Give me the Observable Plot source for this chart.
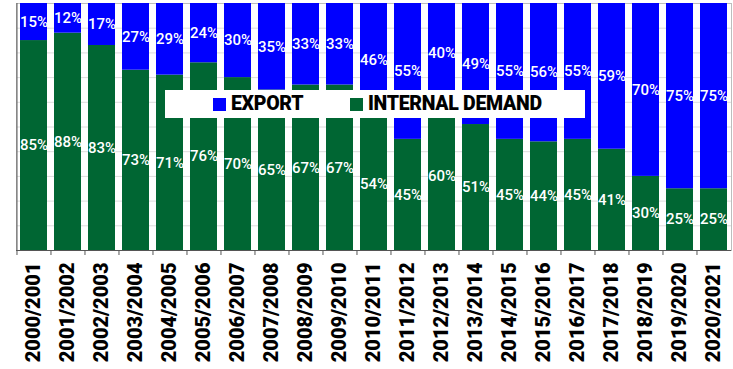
<!DOCTYPE html>
<html>
<head>
<meta charset="utf-8">
<script src="https://cdn.jsdelivr.net/npm/d3@7"></script>
<script src="https://cdn.jsdelivr.net/npm/@observablehq/plot@0.6"></script>
<style>
  html, body { margin: 0; padding: 0; background: #fff; }
  #wrap { position: relative; width: 733px; height: 369px; }
  #legend { position: absolute; left: 165px; top: 90px; width: 420px; height: 28px; background: #fff;
            font-family: Roboto, sans-serif; font-weight: 900; font-size: 19.5px; color: #000; }
  .sw { position: absolute; top: 8px; width: 13px; height: 13px; }
  .lt { position: absolute; top: 0; line-height: 28px; letter-spacing: -0.3px; }
</style>
</head>
<body>
<div id="wrap">
  <div id="chart"></div>
  <div id="legend">
    <div class="sw" style="left:48px;background:#0000ff"></div>
    <div class="lt" style="left:66px">EXPORT</div>
    <div class="sw" style="left:185px;background:#006633"></div>
    <div class="lt" style="left:203px">INTERNAL DEMAND</div>
  </div>
</div>
<script>
const seasons = ["2000/2001","2001/2002","2002/2003","2003/2004","2004/2005","2005/2006","2006/2007","2007/2008","2008/2009","2009/2010","2010/2011","2011/2012","2012/2013","2013/2014","2014/2015","2015/2016","2016/2017","2017/2018","2018/2019","2019/2020","2020/2021"];
const internalDemand = [85,88,83,73,71,76,70,65,67,67,54,45,60,51,45,44,45,41,30,25,25];
const exportShare = [15,12,17,27,29,24,30,35,33,33,46,55,40,49,55,56,55,59,70,75,75];
const seriesNames = ["INTERNAL DEMAND", "EXPORT"];
const seriesColors = ["#006633", "#0000ff"];

const rows = [];
seasons.forEach((s, i) => rows.push({season: s, series: seriesNames[0], value: internalDemand[i]}));
seasons.forEach((s, i) => rows.push({season: s, series: seriesNames[1], value: exportShare[i]}));

const W = 733, ML = 16, MR = 2;
const half = (W - ML - MR) / seasons.length / 2;

const chart = Plot.plot({
  width: W,
  height: 369,
  marginTop: 3,
  marginLeft: ML,
  marginRight: MR,
  marginBottom: 119,
  style: {background: "white"},
  x: {domain: seasons, paddingInner: 0.2, paddingOuter: 0.1, label: null},
  y: {domain: [0, 100], label: null, axis: null},
  color: {domain: seriesNames, range: seriesColors},
  marks: [
    Plot.gridY(d3.range(10, 100, 10), {stroke: "#dcdcdc", strokeOpacity: 1}),
    Plot.frame({stroke: "#bdbdbd"}),
    Plot.barY(rows, Plot.stackY({x: "season", y: "value", fill: "series"})),
    Plot.text(rows, Plot.stackY({x: "season", y: "value", text: d => d.value + "%", fill: "white",
      fontSize: 15, fontWeight: 500, fontFamily: "Roboto"})),
    Plot.ruleY([0], {stroke: "#555"}),
    Plot.ruleX([seasons[0]], {dx: -half, stroke: "#555"}),
    Plot.axisX({tickSize: 5, tickFormat: () => "", dx: -half, stroke: "#555"}),
    Plot.axisX({tickSize: 0, tickPadding: 12, tickRotate: -90, fontSize: 20, fontWeight: 900,
      fontFamily: "Roboto", fill: "black", label: null})
  ]
});
document.getElementById("chart").appendChild(chart);
</script>
</body>
</html>
